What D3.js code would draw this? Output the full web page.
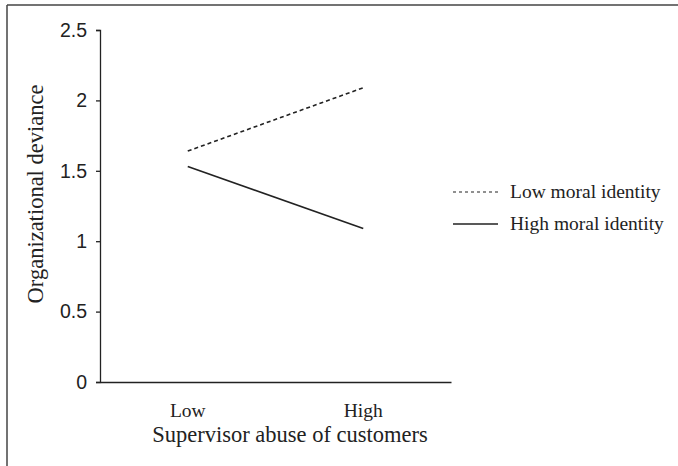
<!DOCTYPE html>
<html lang="en">
<head>
    <meta charset="UTF-8">
    <title>Organizational deviance interaction plot</title>
    <script src="https://d3js.org/d3.v7.min.js"></script>
    <style>
        body { margin: 0; background: #fff; }
    </style>
</head>
<body>
    <svg width="678" height="466"></svg>
    <script>
        // data
        const categories = ["Low", "High"];
        const seriesNames = ["Low moral identity", "High moral identity"];
        const lowMoral = [1.64, 2.09];
        const highMoral = [1.53, 1.09];
        const yTicks = [0, 0.5, 1, 1.5, 2, 2.5];

        const svg = d3.select("svg");
        const serif = "'Liberation Serif', 'Times New Roman', serif";
        const sans = "'Liberation Sans', Arial, sans-serif";
        const ink = "#222";

        // frame (top and left edges only, like the scan)
        svg.append("line").attr("x1", 7).attr("y1", 5).attr("x2", 678).attr("y2", 5)
            .attr("stroke", "#444").attr("stroke-width", 1.5);
        svg.append("line").attr("x1", 7).attr("y1", 5).attr("x2", 7).attr("y2", 466)
            .attr("stroke", "#444").attr("stroke-width", 1.5);

        const x = d3.scaleBand().domain(categories).range([100, 451]);
        const y = d3.scaleLinear().domain([0, 2.5]).range([382, 30]);

        // y axis
        const yAxis = svg.append("g").attr("transform", "translate(100,0)")
            .call(d3.axisLeft(y).tickValues(yTicks).tickSize(4).tickPadding(9)
                .tickFormat(d => d3.format("")(d)));
        yAxis.select(".domain").attr("stroke", ink).attr("stroke-width", 1.3);
        yAxis.selectAll(".tick line").attr("stroke", ink).attr("stroke-width", 1.3);
        yAxis.selectAll(".tick text").attr("font-family", sans).attr("font-size", 19.5)
            .attr("fill", ink);

        // x axis
        const xAxis = svg.append("g").attr("transform", "translate(0,382)")
            .call(d3.axisBottom(x).tickSize(0).tickPadding(21));
        xAxis.select(".domain").attr("stroke", ink).attr("stroke-width", 1.3);
        xAxis.selectAll(".tick text").attr("font-family", serif).attr("font-size", 19.5)
            .attr("fill", ink);

        // axis titles
        svg.append("text")
            .attr("x", 290).attr("y", 442)
            .attr("text-anchor", "middle")
            .attr("font-family", serif).attr("font-size", 22.5).attr("fill", ink)
            .text("Supervisor abuse of customers");

        svg.append("text")
            .attr("transform", "translate(43,194) rotate(-90)")
            .attr("text-anchor", "middle")
            .attr("font-family", serif).attr("font-size", 22.5).attr("fill", ink)
            .text("Organizational deviance");

        // lines
        const line = d3.line()
            .x((d, i) => x(categories[i]) + x.bandwidth() / 2)
            .y(d => y(d));

        const series = [
            { name: seriesNames[0], values: lowMoral, dash: "4,3" },
            { name: seriesNames[1], values: highMoral, dash: null }
        ];

        svg.selectAll("path.series").data(series).enter().append("path")
            .attr("class", "series")
            .attr("d", d => line(d.values))
            .attr("fill", "none")
            .attr("stroke", ink)
            .attr("stroke-width", 1.6)
            .attr("stroke-dasharray", d => d.dash);

        // legend
        const legend = svg.selectAll("g.legend").data(series).enter().append("g")
            .attr("class", "legend")
            .attr("transform", (d, i) => `translate(453,${192 + i * 32})`);
        legend.append("line")
            .attr("x1", 0).attr("x2", 45).attr("y1", 0).attr("y2", 0)
            .attr("stroke", ink).attr("stroke-width", d => d.dash ? 1.2 : 1.6)
            .attr("stroke-dasharray", d => d.dash ? "3,3" : null);
        legend.append("text")
            .attr("x", 57).attr("y", 6)
            .attr("font-family", serif).attr("font-size", 19.5).attr("fill", ink)
            .text(d => d.name);
    </script>
</body>
</html>
